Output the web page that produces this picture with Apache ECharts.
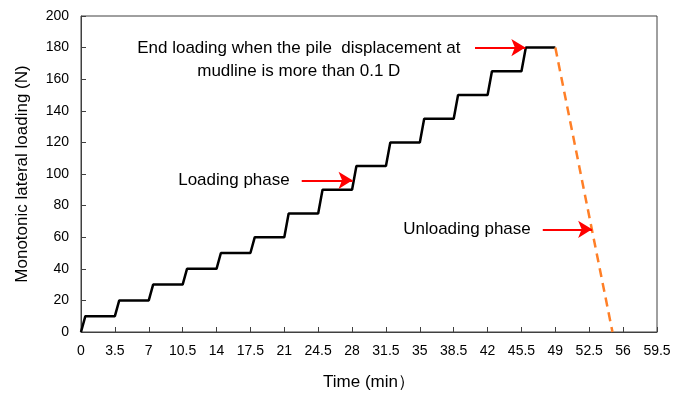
<!DOCTYPE html>
<html><head><meta charset="utf-8">
<script src="https://cdn.jsdelivr.net/npm/echarts@6/dist/echarts.min.js"></script>
<style>html,body{margin:0;padding:0;background:#fff}#c{width:673px;height:396px}</style>
</head><body><div id="c"></div>
<script>
// Loading phase (step curve)
const loadTimes = [0, 0.45, 3.5, 3.95, 7, 7.45, 10.5, 10.95, 14, 14.45, 17.5, 17.95, 21, 21.45, 24.5, 24.95, 28, 28.45, 31.5, 31.95, 35, 35.45, 38.5, 38.95, 42, 42.45, 45.5, 45.95, 49];
const loadValues = [0, 10, 10, 20, 20, 30, 30, 40, 40, 50, 50, 60, 60, 75, 75, 90, 90, 105, 105, 120, 120, 135, 135, 150, 150, 165, 165, 180, 180];
// Unloading phase
const unloadTimes = [49, 54.9];
const unloadValues = [180, 0];
// Axis ticks
const xTicks = [0, 3.5, 7, 10.5, 14, 17.5, 21, 24.5, 28, 31.5, 35, 38.5, 42, 45.5, 49, 52.5, 56, 59.5];
const yTicks = [0, 20, 40, 60, 80, 100, 120, 140, 160, 180, 200];
// Annotations
const noteTexts = ['End loading when the pile  displacement at\nmudline is more than 0.1 D', 'Loading phase', 'Unloading phase'];
const arrowStarts = [[40.7, 180], [22.8, 96], [47.7, 65]];
const arrowEnds = [[45.9, 180], [28.05, 96], [52.8, 65]];
const noteAnchor = [22.5, 172.5];

const font = 'Liberation Sans, Arial, sans-serif';
const axisColor = '#404040';
const chart = echarts.init(document.getElementById('c'));
const zip = (a, b) => a.map((v, i) => [v, b[i]]);

chart.setOption({
  animation: false,
  grid: { left: 81, right: 16, top: 16, bottom: 64, outerBoundsMode: 'none', containLabel: false, show: true, borderColor: axisColor, borderWidth: 1 },
  xAxis: {
    type: 'value', min: xTicks[0], max: xTicks[xTicks.length - 1], interval: 3.5,
    name: 'Time (min）', nameLocation: 'middle', nameGap: 42,
    nameTextStyle: { fontFamily: font, fontSize: 17, color: '#000' },
    axisLine: { lineStyle: { color: axisColor } },
    axisTick: { inside: true, length: 5, lineStyle: { color: axisColor } },
    axisLabel: { fontFamily: font, fontSize: 14, color: '#000', margin: 12 },
    splitLine: { show: false }
  },
  yAxis: {
    type: 'value', min: yTicks[0], max: yTicks[yTicks.length - 1], interval: 20,
    name: 'Monotonic lateral loading (N)', nameLocation: 'middle', nameGap: 50,
    nameTextStyle: { fontFamily: font, fontSize: 17, color: '#000' },
    axisLine: { show: true, lineStyle: { color: axisColor } },
    axisTick: { show: true, inside: true, length: 5, lineStyle: { color: axisColor } },
    axisLabel: { fontFamily: font, fontSize: 14, color: '#000', margin: 12 },
    splitLine: { show: false }
  },
  series: [
    {
      type: 'line', data: zip(loadTimes, loadValues), symbol: 'none',
      lineStyle: { color: '#000', width: 2.5 },
      markLine: {
        silent: true, symbol: ['none', 'arrow'], symbolSize: [13, 14],
        lineStyle: { color: '#ff0000', width: 2, type: 'solid' },
        label: { show: true, position: 'start', distance: 12, fontFamily: font, fontSize: 17, color: '#000' },
        data: [
          [{ coord: arrowStarts[0], label: { show: false } }, { coord: arrowEnds[0] }],
          [{ coord: arrowStarts[1], label: { formatter: noteTexts[1] } }, { coord: arrowEnds[1] }],
          [{ coord: arrowStarts[2], label: { formatter: noteTexts[2] } }, { coord: arrowEnds[2] }]
        ]
      },
      markPoint: {
        silent: true, symbol: 'circle', symbolSize: 0,
        data: [{ coord: noteAnchor }],
        label: { show: true, formatter: noteTexts[0], position: 'inside', align: 'center', fontFamily: font, fontSize: 17, color: '#000', lineHeight: 23 }
      }
    },
    {
      type: 'line', data: zip(unloadTimes, unloadValues), symbol: 'none',
      lineStyle: { color: '#ff7f27', width: 2.5, type: [9, 6] }
    }
  ]
});
</script></body></html>
